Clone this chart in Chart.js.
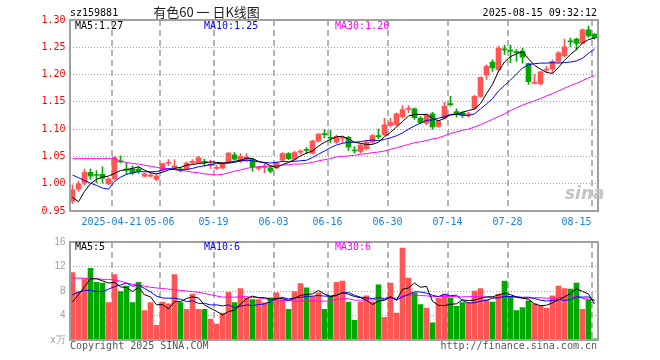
<!DOCTYPE html>
<html>
<head>
<meta charset="utf-8">
<script src="https://cdn.jsdelivr.net/npm/chart.js@4/dist/chart.umd.min.js"></script>
<style>
  body { margin: 0; background: #fff; }
  #wrap { position: relative; width: 660px; height: 360px; overflow: hidden; }
  canvas { position: absolute; left: 0; }
  .t { position: absolute; white-space: pre; font: 10px "DejaVu Sans Mono", monospace; line-height: 12px; color: #000; }
</style>
</head>
<body>
<div id="wrap">
  <canvas id="kline" width="660" height="232" style="top:0"></canvas>
  <canvas id="vol" width="660" height="128" style="top:232px"></canvas>

  <div class="t" style="left:70px;top:7px">sz159881</div>
  <div class="t" style="left:0;width:413px;text-align:center;top:4px;font:13px 'Noto Sans CJK SC';line-height:16px;color:#222">有色60 一 日K线图</div>
  <div class="t" style="right:63px;top:7px">2025-08-15 09:32:12</div>

  <div class="t" style="left:75px;top:20px">MA5:1.27</div>
  <div class="t" style="left:204px;top:20px;color:#0000ff">MA10:1.25</div>
  <div class="t" style="left:335px;top:20px;color:#ff00ff">MA30:1.20</div>

  <div class="t" style="left:565px;top:183px;font:italic bold 17px 'DejaVu Sans';color:#c4c4c4">sina</div>

  <div class="t" style="left:75px;top:241px">MA5:5</div>
  <div class="t" style="left:204px;top:241px;color:#0000ff">MA10:6</div>
  <div class="t" style="left:335px;top:241px;color:#ff00ff">MA30:6</div>

  <div class="t" style="left:70px;top:340px;color:#555">Copyright 2025 SINA.COM</div>
  <div class="t" style="right:63px;top:340px;color:#555">http://finance.sina.com.cn</div>
</div>

<script>
// trading days, 2025
const days = [
  '04-10','04-11','04-14','04-15','04-16','04-17','04-18','04-21','04-22','04-23',
  '04-24','04-25','04-28','04-29','04-30','05-06','05-07','05-08','05-09','05-12',
  '05-13','05-14','05-15','05-16','05-19','05-20','05-21','05-22','05-23','05-26',
  '05-27','05-28','05-29','05-30','06-03','06-04','06-05','06-06','06-09','06-10',
  '06-11','06-12','06-13','06-16','06-17','06-18','06-19','06-20','06-23','06-24',
  '06-25','06-26','06-27','06-30','07-01','07-02','07-03','07-04','07-07','07-08',
  '07-09','07-10','07-11','07-14','07-15','07-16','07-17','07-18','07-21','07-22',
  '07-23','07-24','07-25','07-28','07-29','07-30','07-31','08-01','08-04','08-05',
  '08-06','08-07','08-08','08-11','08-12','08-13','08-14','08-15'
];
const tickDays = ['04-21','05-06','05-19','06-03','06-16','06-30','07-14','07-28','08-15'];
const tickLabels = ['2025-04-21','05-06','05-19','06-03','06-16','06-30','07-14','07-28','08-15'];

const opens = [
  0.968,0.990,1.002,1.021,1.016,1.017,1.000,1.009,1.042,1.027,
  1.027,1.027,1.014,1.014,1.008,1.025,1.037,1.029,1.027,1.027,
  1.038,1.038,1.040,1.033,1.028,1.029,1.038,1.053,1.041,1.043,
  1.045,1.028,1.030,1.029,1.029,1.043,1.055,1.045,1.058,1.063,
  1.056,1.078,1.092,1.085,1.076,1.083,1.085,1.061,1.059,1.064,
  1.076,1.088,1.090,1.107,1.108,1.123,1.136,1.137,1.120,1.111,
  1.128,1.105,1.120,1.146,1.132,1.130,1.126,1.138,1.160,1.199,
  1.223,1.209,1.247,1.244,1.242,1.243,1.220,1.184,1.183,1.208,
  1.210,1.224,1.234,1.262,1.265,1.257,1.282,1.274
];
const highs = [
  0.998,1.005,1.027,1.027,1.024,1.031,1.011,1.050,1.051,1.038,
  1.033,1.031,1.020,1.020,1.017,1.038,1.044,1.044,1.030,1.040,
  1.044,1.050,1.045,1.043,1.034,1.039,1.057,1.057,1.055,1.055,
  1.047,1.032,1.036,1.032,1.040,1.057,1.057,1.060,1.062,1.066,
  1.080,1.092,1.099,1.098,1.089,1.087,1.087,1.068,1.073,1.079,
  1.090,1.100,1.120,1.120,1.130,1.143,1.143,1.139,1.123,1.128,
  1.131,1.116,1.149,1.160,1.137,1.132,1.131,1.162,1.196,1.218,
  1.227,1.252,1.254,1.254,1.246,1.248,1.221,1.200,1.206,1.215,
  1.227,1.242,1.265,1.267,1.267,1.284,1.289,1.275
];
const lows = [
  0.964,0.986,0.998,1.008,1.002,1.001,0.998,1.007,1.038,1.017,
  1.017,1.019,1.012,1.012,1.005,1.023,1.033,1.028,1.022,1.026,
  1.036,1.037,1.032,1.028,1.026,1.027,1.037,1.043,1.039,1.040,
  1.023,1.025,1.020,1.020,1.027,1.041,1.044,1.043,1.054,1.055,
  1.054,1.076,1.084,1.075,1.074,1.075,1.061,1.056,1.056,1.062,
  1.074,1.082,1.088,1.104,1.106,1.120,1.130,1.118,1.110,1.108,
  1.100,1.103,1.118,1.142,1.122,1.121,1.122,1.136,1.158,1.191,
  1.206,1.206,1.237,1.222,1.224,1.221,1.182,1.183,1.181,1.204,
  1.202,1.222,1.233,1.251,1.245,1.256,1.268,1.265
];
const closes = [
  0.989,1.000,1.021,1.014,1.015,1.010,1.009,1.048,1.040,1.025,
  1.020,1.022,1.018,1.016,1.014,1.037,1.039,1.033,1.025,1.038,
  1.041,1.048,1.039,1.036,1.030,1.036,1.056,1.045,1.050,1.049,
  1.031,1.029,1.031,1.023,1.038,1.055,1.046,1.057,1.060,1.061,
  1.078,1.091,1.090,1.083,1.087,1.085,1.067,1.060,1.071,1.076,
  1.088,1.086,1.108,1.112,1.128,1.136,1.138,1.121,1.112,1.126,
  1.104,1.114,1.142,1.145,1.128,1.125,1.128,1.160,1.195,1.215,
  1.212,1.248,1.245,1.243,1.240,1.232,1.187,1.185,1.205,1.210,
  1.224,1.240,1.251,1.260,1.257,1.282,1.271,1.267
];
const ma5 = [
  0.975,0.967,0.986,1.000,1.008,1.012,1.014,1.019,1.024,1.026,
  1.028,1.031,1.025,1.020,1.018,1.021,1.025,1.028,1.030,1.034,
  1.035,1.037,1.038,1.040,1.039,1.038,1.039,1.041,1.043,1.047,
  1.046,1.041,1.038,1.033,1.030,1.035,1.039,1.044,1.051,1.056,
  1.060,1.069,1.076,1.081,1.086,1.087,1.082,1.076,1.074,1.072,
  1.072,1.076,1.086,1.094,1.104,1.114,1.124,1.127,1.127,1.127,
  1.120,1.115,1.120,1.126,1.127,1.131,1.134,1.137,1.147,1.165,
  1.182,1.206,1.223,1.233,1.238,1.242,1.229,1.217,1.210,1.204,
  1.202,1.213,1.226,1.237,1.246,1.258,1.264,1.267
];
const ma10 = [
  1.016,1.011,1.006,1.001,0.997,0.992,0.990,1.004,1.012,1.017,
  1.020,1.022,1.022,1.022,1.022,1.025,1.028,1.026,1.025,1.026,
  1.028,1.031,1.033,1.035,1.037,1.037,1.038,1.039,1.042,1.043,
  1.042,1.040,1.039,1.038,1.039,1.041,1.040,1.041,1.042,1.043,
  1.048,1.054,1.060,1.066,1.071,1.074,1.076,1.076,1.077,1.079,
  1.080,1.079,1.081,1.084,1.088,1.093,1.100,1.106,1.111,1.116,
  1.117,1.120,1.123,1.127,1.127,1.126,1.125,1.128,1.137,1.146,
  1.156,1.170,1.180,1.190,1.201,1.212,1.218,1.220,1.221,1.221,
  1.222,1.221,1.222,1.223,1.225,1.230,1.239,1.247
];
const ma30 = [
  1.046,1.046,1.046,1.046,1.046,1.046,1.046,1.046,1.041,1.039,
  1.037,1.036,1.034,1.032,1.030,1.028,1.027,1.026,1.024,1.023,
  1.021,1.020,1.018,1.017,1.016,1.017,1.020,1.023,1.025,1.028,
  1.030,1.031,1.032,1.032,1.033,1.034,1.035,1.036,1.036,1.037,
  1.039,1.042,1.044,1.046,1.049,1.050,1.051,1.052,1.054,1.055,
  1.057,1.058,1.060,1.063,1.066,1.069,1.072,1.075,1.077,1.079,
  1.082,1.084,1.088,1.092,1.095,1.098,1.100,1.104,1.108,1.113,
  1.118,1.123,1.128,1.134,1.139,1.144,1.148,1.152,1.156,1.161,
  1.165,1.170,1.175,1.180,1.184,1.189,1.194,1.198
];

// volume, in 10k
const volumes = [
  11.0,7.9,10.0,11.7,9.4,9.3,6.1,10.7,7.9,8.8,
  6.1,9.4,4.8,6.1,2.4,6.2,5.9,10.7,6.1,5.0,
  7.5,5.0,5.0,3.4,2.6,4.4,7.8,6.1,8.4,6.9,
  6.6,6.6,6.1,6.9,7.7,6.6,5.0,7.9,9.2,8.5,
  7.1,7.7,5.0,7.1,9.4,9.6,6.2,3.2,6.2,7.2,
  6.2,9.0,3.7,9.3,4.4,15.0,10.1,7.7,5.8,5.2,
  2.8,6.8,7.5,6.9,5.5,6.1,6.1,8.0,8.4,6.6,
  6.2,7.5,9.6,7.1,4.8,5.3,6.4,5.9,5.6,5.2,
  7.2,8.8,8.4,8.3,9.3,5.0,6.6,0.2
];
const volMa5 = [
  6.2,7.4,8.7,10.0,10.0,9.66,9.3,9.44,8.68,8.56,
  7.92,8.58,7.4,7.04,5.76,5.78,5.08,6.26,6.26,6.78,
  7.04,6.86,5.72,5.18,4.7,4.08,4.64,4.86,5.86,6.72,
  7.16,6.92,6.92,6.62,6.78,6.78,6.46,6.82,7.28,7.44,
  7.54,8.08,7.5,7.08,7.26,7.76,7.46,7.1,6.92,6.48,
  5.8,6.36,6.46,7.08,6.52,8.28,8.5,9.3,8.6,8.76,
  6.32,5.66,5.62,5.84,5.9,6.56,6.42,6.52,6.82,7.04,
  7.06,7.34,7.66,7.4,7.04,6.86,6.64,5.9,5.6,5.68,
  6.06,6.54,7.04,7.58,8.38,7.94,7.5,5.86
];
const volMa10 = [
  7.4,7.8,8.1,8.1,7.9,7.9,8.3,8.7,9.0,9.28,
  8.79,8.94,8.42,7.86,7.16,6.85,6.83,6.83,6.65,6.27,
  6.41,5.97,5.99,5.72,5.74,5.56,5.75,5.29,5.52,5.71,
  5.62,5.78,5.89,6.24,6.75,6.97,6.69,6.87,6.95,7.11,
  7.16,7.27,7.16,7.18,7.35,7.65,7.77,7.3,7.0,6.87,
  6.78,6.91,6.78,7.0,6.5,7.04,7.43,7.88,7.84,7.64,
  7.3,7.08,7.46,7.22,7.33,6.44,6.04,6.07,6.33,6.47,
  6.81,6.88,7.09,7.11,7.04,6.96,6.99,6.78,6.5,6.36,
  6.46,6.59,6.47,6.59,7.04,7.01,7.03,6.46
];
const volMa30 = [
  10.1,10.1,10.1,10.0,10.0,9.9,9.9,9.8,9.6,9.3,
  9.1,9.0,8.8,8.6,8.5,8.4,8.3,8.2,8.1,8.0,
  7.9,7.8,7.6,7.4,7.2,7.0,7.0,7.0,7.05,7.09,
  6.94,6.90,6.77,6.61,6.55,6.46,6.42,6.33,6.37,6.36,
  6.40,6.34,6.35,6.38,6.61,6.73,6.74,6.49,6.49,6.56,
  6.52,6.65,6.61,6.81,6.87,7.22,7.30,7.35,7.26,7.21,
  7.08,7.09,7.13,7.13,7.06,7.04,7.08,7.08,7.06,6.99,
  6.96,6.96,7.11,7.11,6.96,6.81,6.82,6.91,6.89,6.82,
  6.86,6.85,7.01,6.97,7.14,6.80,6.69,6.44
];

const UP = '#ff5555';
const DOWN = '#00a800';
const MONO = 'DejaVu Sans Mono';

const labels = days.map(d => '2025-' + d);
const upColors = closes.map((c, i) => c >= opens[i] ? UP : DOWN);

function tickIndex(i) {
  return tickDays.indexOf(days[i]);
}

// plot frame drawn round the chart area
const framePlugin = {
  id: 'frame',
  afterDatasetsDraw(chart) {
    const {ctx, chartArea: a} = chart;
    ctx.save();
    ctx.strokeStyle = '#a0a0a0';
    ctx.lineWidth = 2;
    const l = Math.round(a.left), r = Math.round(a.right);
    const t = Math.round(a.top), b = Math.round(a.bottom);
    ctx.strokeRect(l, t, r - l, b - t);
    ctx.restore();
  }
};

function xScale(showLabels) {
  return {
    offset: true,
    grid: {
      offset: true,
      drawTicks: false,
      color: c => (c.index !== undefined && tickIndex(c.index) >= 0) ? '#b4b4b4' : 'rgba(0,0,0,0)',
      lineWidth: c => (c.index !== undefined && tickIndex(c.index) >= 0) ? 2 : 0
    },
    border: { display: false, dash: [6, 4] },
    ticks: {
      display: showLabels,
      autoSkip: false,
      maxRotation: 0,
      minRotation: 0,
      labelOffset: -3,
      padding: 5,
      color: '#1a80d9',
      font: { family: MONO, size: 10 },
      callback: (v, i) => {
        const k = tickIndex(i);
        if (k < 0) return '';
        // last label sits left of its line so it stays inside the frame
        return i === days.length - 1 ? tickLabels[k] + '     ' : tickLabels[k];
      }
    },
    afterFit: s => { s.height = showLabels ? 21 : 0; }
  };
}

Chart.defaults.font.family = MONO;

new Chart(document.getElementById('kline'), {
  type: 'bar',
  data: {
    labels: labels,
    datasets: [
      { type: 'line', data: ma5, borderColor: '#000000', borderWidth: 1, pointRadius: 0, order: 0 },
      { type: 'line', data: ma10, borderColor: '#0000ff', borderWidth: 1, pointRadius: 0, order: 0 },
      { type: 'line', data: ma30, borderColor: '#ff00ff', borderWidth: 1, pointRadius: 0, order: 0 },
      {
        data: opens.map((o, i) => [o, closes[i]]),
        backgroundColor: upColors,
        barThickness: 5,
        minBarLength: 1,
        grouped: false,
        order: 1
      },
      {
        data: lows.map((l, i) => [l, highs[i]]),
        backgroundColor: upColors,
        barThickness: 1,
        grouped: false,
        order: 2
      }
    ]
  },
  options: {
    responsive: false,
    animation: false,
    layout: { padding: { top: 20, right: 62.5, left: 0, bottom: 0 } },
    plugins: { legend: { display: false }, tooltip: { enabled: false } },
    scales: {
      x: xScale(true),
      y: {
        min: 0.95,
        max: 1.30,
        grid: { color: '#a0a0a0', drawTicks: false },
        border: { display: false, dash: [1, 2] },
        ticks: {
          stepSize: 0.05,
          padding: 4,
          color: '#ff0000',
          font: { family: MONO, size: 10 },
          callback: v => v.toFixed(2)
        },
        afterFit: s => { s.width = 69.5; }
      }
    }
  },
  plugins: [framePlugin]
});

new Chart(document.getElementById('vol'), {
  type: 'bar',
  data: {
    labels: labels,
    datasets: [
      { type: 'line', data: volMa5, borderColor: '#000000', borderWidth: 1, pointRadius: 0, order: 0 },
      { type: 'line', data: volMa10, borderColor: '#0000ff', borderWidth: 1, pointRadius: 0, order: 0 },
      { type: 'line', data: volMa30, borderColor: '#ff00ff', borderWidth: 1, pointRadius: 0, order: 0 },
      { data: volumes, backgroundColor: upColors, barThickness: 5, order: 1 }
    ]
  },
  options: {
    responsive: false,
    animation: false,
    layout: { padding: { top: 8, right: 62.5, left: 0, bottom: 20 } },
    plugins: { legend: { display: false }, tooltip: { enabled: false } },
    scales: {
      x: xScale(false),
      y: {
        min: 0,
        max: 16,
        grid: { color: '#a0a0a0', drawTicks: false },
        border: { display: false, dash: [1, 2] },
        ticks: {
          stepSize: 4,
          padding: 4,
          color: '#a0a0a0',
          font: { family: 'Liberation Sans', size: 10 },
          callback: v => v === 0 ? 'x万' : v
        },
        afterFit: s => { s.width = 69.5; }
      }
    }
  },
  plugins: [framePlugin]
});
</script>
</body>
</html>
